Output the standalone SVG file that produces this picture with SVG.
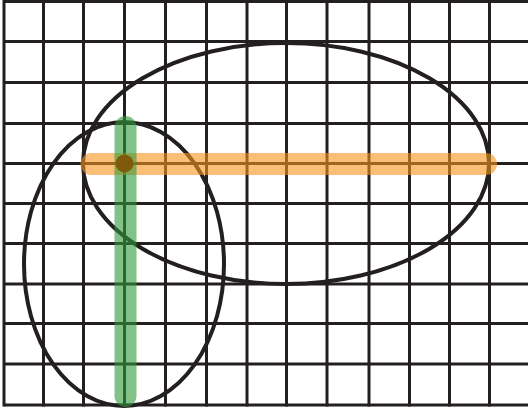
<svg xmlns="http://www.w3.org/2000/svg" width="528" height="408" viewBox="0 0 528 408">
<style>
.grid line{stroke:#231f20;stroke-width:3}
.ell{fill:none;stroke:#231f20;stroke-width:4}
.bar{fill:none;stroke-width:22;stroke-linecap:round}
</style>
<rect width="528" height="408" fill="#fff"/>
<g id="grid" class="grid">
<line x1="4" y1="1.5" x2="528" y2="1.5"/>
<line x1="4" y1="41.5" x2="528" y2="41.5"/>
<line x1="4" y1="82.5" x2="528" y2="82.5"/>
<line x1="4" y1="123.5" x2="528" y2="123.5"/>
<line x1="4" y1="163.5" x2="528" y2="163.5"/>
<line x1="4" y1="203.5" x2="528" y2="203.5"/>
<line x1="4" y1="243.5" x2="528" y2="243.5"/>
<line x1="4" y1="284" x2="528" y2="284"/>
<line x1="4" y1="323.5" x2="528" y2="323.5"/>
<line x1="4" y1="364" x2="528" y2="364"/>
<line x1="4" y1="405" x2="528" y2="405"/>
<line x1="4" y1="0" x2="4" y2="406.5"/>
<line x1="43.5" y1="0" x2="43.5" y2="406.5"/>
<line x1="83.5" y1="0" x2="83.5" y2="406.5"/>
<line x1="124.5" y1="0" x2="124.5" y2="406.5"/>
<line x1="165.5" y1="0" x2="165.5" y2="406.5"/>
<line x1="206.5" y1="0" x2="206.5" y2="406.5"/>
<line x1="247" y1="0" x2="247" y2="406.5"/>
<line x1="286.5" y1="0" x2="286.5" y2="406.5"/>
<line x1="327" y1="0" x2="327" y2="406.5"/>
<line x1="369" y1="0" x2="369" y2="406.5"/>
<line x1="409.5" y1="0" x2="409.5" y2="406.5"/>
<line x1="449.5" y1="0" x2="449.5" y2="406.5"/>
<line x1="489.5" y1="0" x2="489.5" y2="406.5"/>
</g>
<g id="large-ellipse"><ellipse class="ell" cx="286" cy="163.5" rx="203" ry="120.5"/></g>
<g id="small-ellipse"><ellipse class="ell" cx="124" cy="264" rx="100" ry="142"/></g>
<g id="connectors">
<line class="bar" x1="91.5" y1="164" x2="486" y2="164" stroke="#f7941d" stroke-opacity="0.6"/>
<line class="bar" x1="125.5" y1="127" x2="125.5" y2="396" stroke="#2e9a3a" stroke-opacity="0.6"/>
</g>
<g id="intersection"><circle cx="124.5" cy="163.5" r="9" fill="#7f5a0a"/></g>
</svg>
